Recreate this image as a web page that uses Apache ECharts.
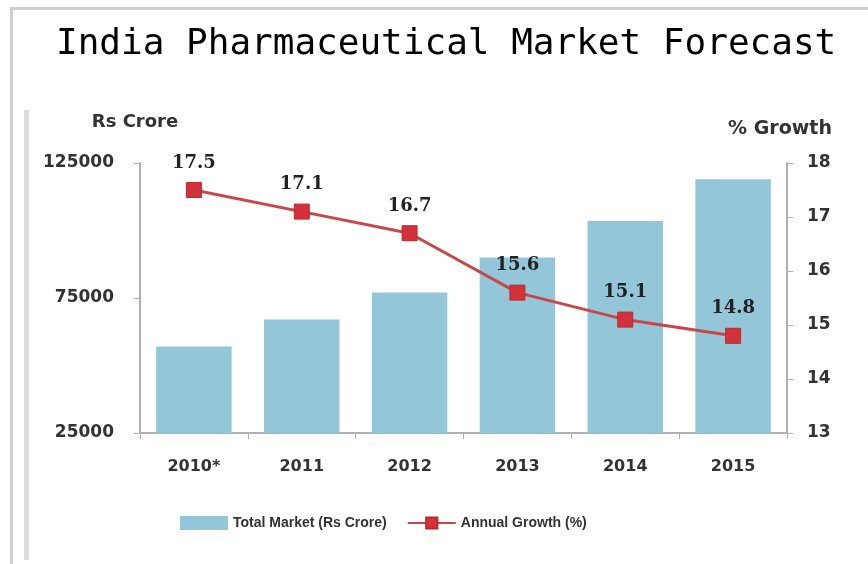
<!DOCTYPE html>
<html>
<head>
<meta charset="utf-8">
<script src="https://cdn.jsdelivr.net/npm/echarts@6/dist/echarts.min.js"></script>
<style>
  html, body { margin: 0; padding: 0; background: #ffffff; }
  #chart { width: 868px; height: 564px; }
</style>
</head>
<body>
<div id="chart"></div>
<script>
var titleText = 'India Pharmaceutical Market Forecast';
var categories = ['2010*', '2011', '2012', '2013', '2014', '2015'];
var marketValues = [57000, 67000, 77000, 90000, 103500, 119000];
var growthValues = [17.5, 17.1, 16.7, 15.6, 15.1, 14.8];
var leftTicks = [25000, 75000, 125000];
var rightTicks = [13, 14, 15, 16, 17, 18];
var seriesNames = ['Total Market (Rs Crore)', 'Annual Growth (%)'];
var axisNames = ['Rs Crore', '% Growth'];

var chart = echarts.init(document.getElementById('chart'), null, { renderer: 'canvas' });

var axisColor = '#b0b0b0';

var option = {
  backgroundColor: '#ffffff',
  animation: false,
  title: {
    text: titleText,
    left: 56,
    top: 27,
    padding: 0,
    textStyle: { fontFamily: 'DejaVu Sans Mono', fontWeight: 'normal', fontSize: 36, color: '#000000' }
  },
  graphic: [
    { type: 'rect', shape: { x: 10, y: 7, width: 858, height: 3 }, style: { fill: '#d0d0d0' }, silent: true },
    { type: 'rect', shape: { x: 10, y: 7, width: 3, height: 557 }, style: { fill: '#d0d0d0' }, silent: true },
    { type: 'rect', shape: { x: 24, y: 110, width: 5, height: 450 }, style: { fill: '#dcdcdc' }, silent: true }
  ],
  legend: {
    left: 180,
    top: 516,
    padding: 0,
    itemWidth: 48,
    itemHeight: 14,
    itemGap: 20,
    textStyle: { fontFamily: 'Liberation Sans', fontWeight: 'bold', fontSize: 14, color: '#333333' },
    data: [{ name: seriesNames[0], icon: 'rect' }, { name: seriesNames[1] }]
  },
  grid: { left: 140, right: 81, top: 163, bottom: 131 },
  xAxis: {
    type: 'category',
    data: categories,
    axisLine: { lineStyle: { color: axisColor, width: 2 } },
    axisTick: { show: true, length: 6, lineStyle: { color: axisColor } },
    axisLabel: { margin: 26, color: '#333333', fontFamily: 'DejaVu Sans', fontWeight: 'bold', fontSize: 16 },
    splitLine: { show: false }
  },
  yAxis: [
    {
      type: 'value',
      min: 25000,
      max: 125000,
      interval: 25000,
      name: axisNames[0],
      nameLocation: 'end',
      nameGap: 32,
      nameTextStyle: { fontFamily: 'DejaVu Sans', fontWeight: 'bold', fontSize: 18, color: '#333333', align: 'center', padding: [0, 10, 0, 0] },
      axisLine: { show: true, lineStyle: { color: axisColor, width: 2 } },
      axisTick: { show: true, length: 6, customValues: leftTicks, lineStyle: { color: axisColor } },
      axisLabel: {
        margin: 26, customValues: leftTicks, color: '#333333', fontFamily: 'DejaVu Sans', fontWeight: 'bold', fontSize: 17,
        formatter: function (v) { return String(v); }
      },
      splitLine: { show: false }
    },
    {
      type: 'value',
      min: 13,
      max: 18,
      interval: 1,
      name: axisNames[1],
      nameLocation: 'end',
      nameGap: 24,
      nameTextStyle: { fontFamily: 'DejaVu Sans', fontWeight: 'bold', fontSize: 19, color: '#333333', align: 'center', padding: [0, 14, 0, 0] },
      axisLine: { show: true, lineStyle: { color: axisColor, width: 2 } },
      axisTick: { show: true, length: 6, customValues: rightTicks, lineStyle: { color: axisColor } },
      axisLabel: { margin: 20, customValues: rightTicks, color: '#333333', fontFamily: 'DejaVu Sans', fontWeight: 'bold', fontSize: 17 },
      splitLine: { show: false }
    }
  ],
  series: [
    {
      name: seriesNames[0],
      type: 'bar',
      yAxisIndex: 0,
      data: marketValues,
      barWidth: '70%',
      itemStyle: { color: '#93c6d8' }
    },
    {
      name: seriesNames[1],
      type: 'line',
      yAxisIndex: 1,
      data: growthValues,
      symbol: 'rect',
      symbolSize: 15,
      lineStyle: { color: '#c8474b', width: 3 },
      itemStyle: { color: '#d3323a', borderColor: '#b82a30', borderWidth: 1 },
      label: {
        show: true,
        position: 'top',
        distance: 10,
        fontFamily: 'DejaVu Serif',
        fontWeight: 'bold',
        fontSize: 18,
        color: '#222222',
        formatter: function (p) { return p.value.toFixed(1); }
      },
      z: 5
    }
  ]
};

chart.setOption(option);
</script>
</body>
</html>
